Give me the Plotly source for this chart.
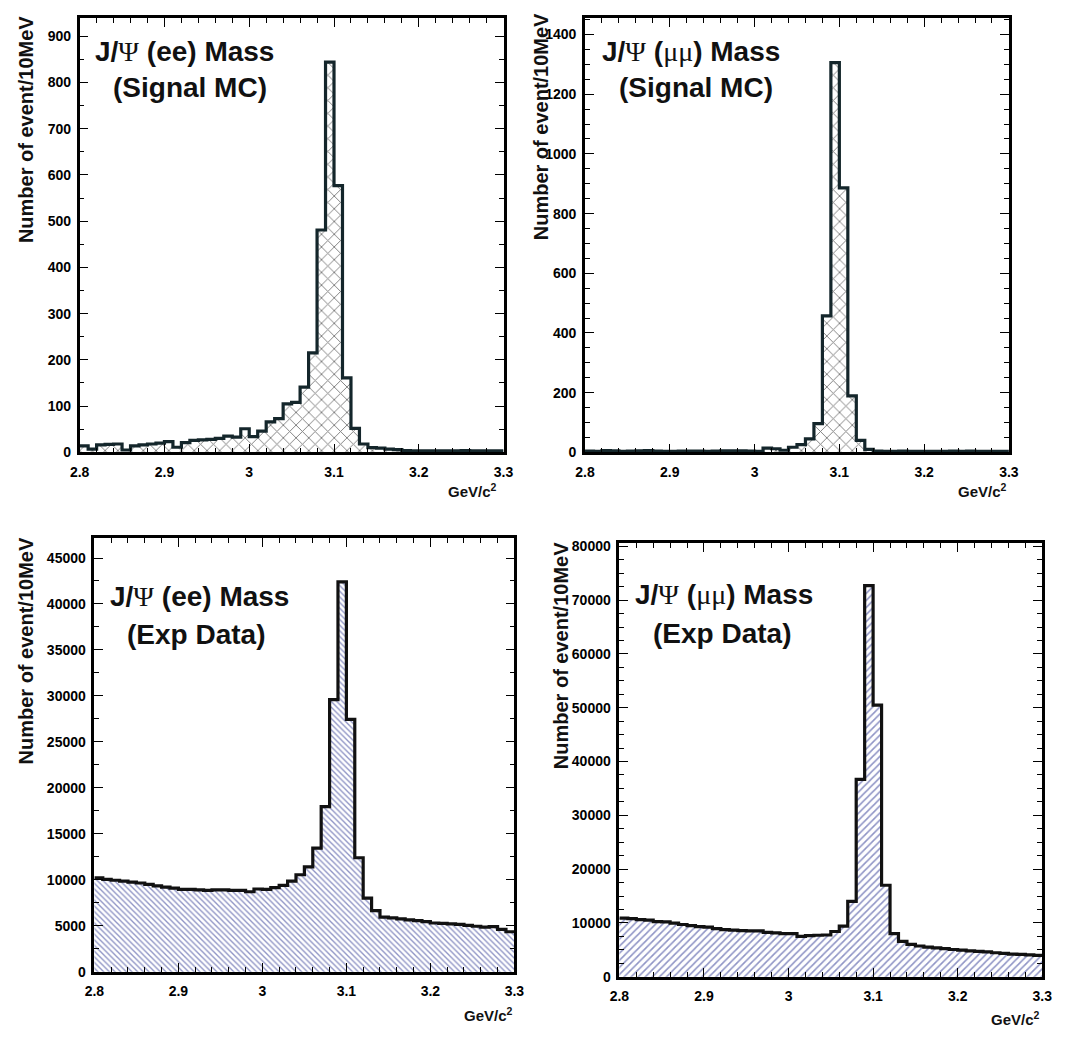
import numpy as np
import plotly.graph_objects as go

# ---------------- data (events per 10 MeV bin, 2.8 - 3.3 GeV/c^2) ----------------
bin_edges = np.round(np.linspace(2.8, 3.3, 51), 3)

ee_signal_mc = [14, 7, 16, 17, 18, 5, 14, 16, 18, 20,
                23, 11, 21, 26, 27, 28, 30, 35, 33, 51,
                34, 46, 66, 73, 105, 108, 141, 215, 481, 844,
                577, 161, 52, 18, 10, 9, 7, 6, 4, 3,
                3, 3, 3, 3, 3, 4, 3, 3, 3, 3]

mumu_signal_mc = [4, 3, 6, 5, 3, 4, 5, 6, 4, 3,
                  3, 4, 4, 4, 3, 4, 5, 5, 5, 4,
                  3, 14, 12, 7, 17, 26, 45, 96, 457, 1306,
                  886, 189, 40, 10, 4, 3, 3, 4, 3, 3,
                  3, 3, 3, 4, 3, 4, 3, 3, 3, 3]

ee_exp_data = [10200, 10050, 9950, 9850, 9750, 9650, 9500, 9350, 9200, 9100,
               8950, 8950, 8900, 8850, 8900, 8900, 8850, 8850, 8700, 9000,
               8950, 9150, 9400, 9850, 10550, 11400, 13450, 17950, 29600, 42400,
               27450, 12400, 8000, 6650, 5950, 5850, 5750, 5650, 5550, 5450,
               5300, 5250, 5200, 5150, 5050, 4950, 4850, 4900, 4600, 4350]

mumu_exp_data = [10900, 10800, 10600, 10500, 10250, 10200, 9950, 9700, 9500, 9300,
                 9200, 8950, 8750, 8650, 8550, 8500, 8500, 8250, 8150, 8000,
                 8000, 7500, 7650, 7700, 7750, 8400, 9400, 14000, 36700, 72700,
                 50500, 17000, 8000, 6550, 6000, 5700, 5500, 5350, 5200, 5050,
                 4950, 4800, 4700, 4600, 4450, 4350, 4200, 4150, 4050, 3950]

x_tick_vals = [2.8, 2.9, 3.0, 3.1, 3.2, 3.3]
x_tick_text = ["2.8", "2.9", "3", "3.1", "3.2", "3.3"]

W, H = 1067, 1038
def px(x):
    return x / W
def py(y):
    return 1 - y / H

SERIF = "style=\"font-family:'Liberation Serif';font-weight:normal\""
PSI = f"<span {SERIF}>\u03a8</span>"
MUMU = f"<span {SERIF}>\u03bc\u03bc</span>"

panels = [
    dict(values=ee_signal_mc, box=(71, 13, 503, 453), yrange=940, dtick=100, minor=50,
         shape="x", fg="#000000", size=9, sol=0.2, line="#14262b",
         t1=f"J/{PSI} (ee) Mass", t2="(Signal MC)", t1xy=(85, 47), t2xy=(103, 84),
         ytitle=(17, 9), gev=(444, 492)),
    dict(values=mumu_signal_mc, box=(586, 13, 1018, 453), yrange=1456, dtick=200, minor=50,
         shape="x", fg="#000000", size=9, sol=0.2, line="#14262b",
         t1=f"J/{PSI} ({MUMU}) Mass", t2="(Signal MC)", t1xy=(601, 47), t2xy=(619, 84),
         ytitle=(542, 6), gev=(964, 492)),
    dict(values=ee_exp_data, box=(86, 540, 514, 979), yrange=47150, dtick=5000, minor=2500,
         shape="\\", fg="#1f2a8c", size=4, sol=0.34, line="#111111",
         t1=f"J/{PSI} (ee) Mass", t2="(Exp Data)", t1xy=(100, 599), t2xy=(117, 637),
         ytitle=(16, 537), gev=(461, 1022)),
    dict(values=mumu_exp_data, box=(621, 545, 1052, 984), yrange=80600, dtick=10000, minor=2500,
         shape="/", fg="#1f2a8c", size=5, sol=0.32, line="#111111",
         t1=f"J/{PSI} ({MUMU}) Mass", t2="(Exp Data)", t1xy=(635, 597), t2xy=(653, 636),
         ytitle=(561, 542), gev=(998, 1026)),
]

fig = go.Figure()
centers = (bin_edges[:-1] + bin_edges[1:]) / 2
annotations = []
tickfont = dict(family="Liberation Sans", size=14, color="black", weight="bold")

for i, p in enumerate(panels, start=1):
    xa = "x" if i == 1 else f"x{i}"
    ya = "y" if i == 1 else f"y{i}"
    vals = p["values"]
    fig.add_trace(go.Bar(
        x=centers, y=vals, width=0.01, xaxis=xa, yaxis=ya,
        marker=dict(color="white", line=dict(width=0),
                    pattern=dict(shape=p["shape"], fgcolor=p["fg"], bgcolor="white",
                                 size=p["size"], solidity=p["sol"], fillmode="overlay")),
        showlegend=False, hoverinfo="skip"))
    fig.add_trace(go.Scatter(
        x=list(bin_edges), y=list(vals) + [vals[-1]], mode="lines",
        line=dict(shape="hv", color=p["line"], width=3.2),
        xaxis=xa, yaxis=ya, showlegend=False, hoverinfo="skip"))

    x0, y0, x1, y1 = p["box"]
    axis_common = dict(showline=True, linecolor="black", linewidth=2.6, mirror="allticks",
                       ticks="inside", ticklen=9, tickwidth=1.3, tickcolor="black",
                       showgrid=False, zeroline=False, tickfont=tickfont)
    xkey = "xaxis" if i == 1 else f"xaxis{i}"
    ykey = "yaxis" if i == 1 else f"yaxis{i}"
    fig.update_layout({
        xkey: dict(domain=[px(x0), px(x1)], range=[2.8, 3.3], anchor=ya,
                   tickvals=x_tick_vals, ticktext=x_tick_text, ticklabelstandoff=5,
                   minor=dict(dtick=0.02, tick0=2.8, ticks="inside", ticklen=5,
                              tickwidth=1.1, tickcolor="black"),
                   **axis_common),
        ykey: dict(domain=[py(y1), py(y0)], range=[0, p["yrange"]], anchor=xa,
                   dtick=p["dtick"], tick0=0, tickformat="d", exponentformat="none",
                   ticklabelstandoff=3,
                   minor=dict(dtick=p["minor"], tick0=0, ticks="inside", ticklen=5,
                              tickwidth=1.1, tickcolor="black"),
                   **axis_common),
    })

    tfont = dict(family="Liberation Sans", size=28, color="#111111", weight="bold")
    annotations.append(dict(text=p["t1"], x=px(p["t1xy"][0]), y=py(p["t1xy"][1]),
                            xref="paper", yref="paper", xanchor="left", yanchor="middle",
                            showarrow=False, font=tfont))
    annotations.append(dict(text=p["t2"], x=px(p["t2xy"][0]), y=py(p["t2xy"][1]),
                            xref="paper", yref="paper", xanchor="left", yanchor="middle",
                            showarrow=False, font=tfont))
    annotations.append(dict(text="Number of event/10MeV", textangle=-90,
                            x=px(p["ytitle"][0]), y=py(p["ytitle"][1]),
                            xref="paper", yref="paper", xanchor="center", yanchor="top",
                            showarrow=False,
                            font=dict(family="Liberation Sans", size=20, color="#111111",
                                      weight="bold")))
    annotations.append(dict(text="GeV/c<sup>2</sup>", x=px(p["gev"][0]), y=py(p["gev"][1]),
                            xref="paper", yref="paper", xanchor="left", yanchor="middle",
                            showarrow=False,
                            font=dict(family="Liberation Sans", size=15, color="#111111",
                                      weight="bold")))

fig.update_layout(width=W, height=H, margin=dict(l=0, r=0, t=0, b=0),
                  paper_bgcolor="white", plot_bgcolor="white", bargap=0,
                  annotations=annotations)

fig.write_html("out.html")
